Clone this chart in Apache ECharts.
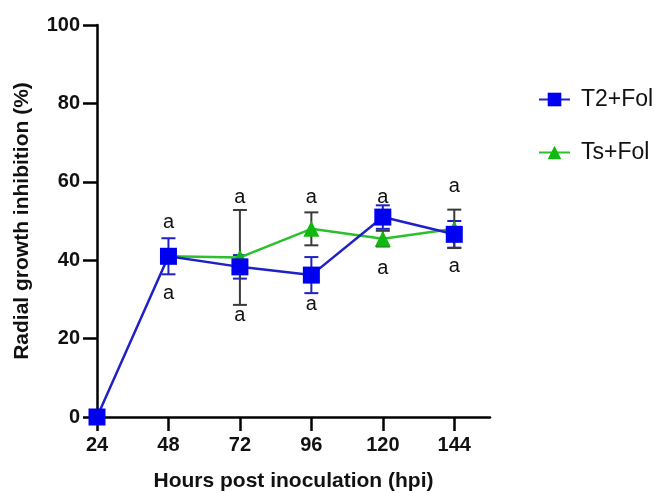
<!DOCTYPE html>
<html>
<head>
<meta charset="utf-8">
<script src="https://cdn.jsdelivr.net/npm/echarts@6/dist/echarts.min.js"></script>
<style>
  html, body { margin: 0; padding: 0; background: #fff; }
  #growth { width: 662px; height: 493px; }
</style>
</head>
<body>
<div id="growth"></div>
<script>
// chart setup
var growthChart = echarts.init(document.getElementById('growth'));

// hours post inoculation
const hours = [24, 48, 72, 96, 120, 144];

// T2+Fol mean and error (+/-)
const t2Mean = [0, 41, 38.3, 36.2, 51, 46.6];
const t2Err = [0, 4.6, 3, 4.6, 3, 3.4];

// Ts+Fol mean and error (no point at 24 h)
const tsMean = [null, 41, 40.7, 48, 45.5, 48];
const tsErr = [null, 0, 12.1, 4.2, 2, 4.9];

// letters above / below each time point
const letterHours = [48, 72, 96, 120, 144];
const letterUp = [49.5, 56, 56, 56, 58.7];
const letterDown = [31.6, 26, 28.8, 38, 38.5];

const blueLine = '#2020c8';
const blueMark = '#0000f0';
const greenLine = '#2cc02c';
const greenMark = '#10b810';
const fontName = '"Liberation Sans", Arial, sans-serif';

function pairs(xs, ys) {
  var out = [];
  for (var i = 0; i < xs.length; i++) {
    if (ys[i] !== null) out.push([xs[i], ys[i]]);
  }
  return out;
}

function errData(xs, m, e) {
  var out = [];
  for (var i = 0; i < xs.length; i++) {
    if (m[i] !== null && e[i] > 0) out.push([xs[i], m[i] - e[i], m[i] + e[i]]);
  }
  return out;
}

function errRender(params, api) {
  var x = api.value(0);
  var lo = api.coord([x, api.value(1)]);
  var hi = api.coord([x, api.value(2)]);
  var w = 7;
  var st = { stroke: api.visual('color'), lineWidth: 2 };
  return {
    type: 'group',
    children: [
      { type: 'line', shape: { x1: lo[0], y1: lo[1], x2: hi[0], y2: hi[1] }, style: st },
      { type: 'line', shape: { x1: lo[0] - w, y1: lo[1], x2: lo[0] + w, y2: lo[1] }, style: st },
      { type: 'line', shape: { x1: hi[0] - w, y1: hi[1], x2: hi[0] + w, y2: hi[1] }, style: st }
    ]
  };
}

function letterRender(params, api) {
  var p = api.coord([api.value(0), api.value(1)]);
  return {
    type: 'text',
    x: p[0],
    y: p[1],
    style: {
      text: 'a', fill: '#111', align: 'center', verticalAlign: 'middle',
      font: '20px ' + fontName
    }
  };
}

var option = {
  animation: false,
  grid: { left: 97, right: 172, top: 25, bottom: 76, outerBoundsMode: 'none' },
  legend: {
    orient: 'vertical',
    left: 533,
    top: 83,
    itemGap: 30,
    itemWidth: 31,
    itemHeight: 17,
    data: ['T2+Fol', 'Ts+Fol'],
    textStyle: { fontSize: 23, color: '#111', fontFamily: fontName, padding: [0, 0, 0, 6] }
  },
  xAxis: {
    type: 'value',
    min: 24,
    max: 156,
    interval: 24,
    name: 'Hours post inoculation (hpi)',
    nameLocation: 'middle',
    nameGap: 54,
    nameTextStyle: { fontSize: 21, fontWeight: 'bold', color: '#111', fontFamily: fontName },
    splitLine: { show: false },
    axisLine: { lineStyle: { color: '#000', width: 2.5 } },
    axisTick: { customValues: hours, length: 14, lineStyle: { color: '#000', width: 2.5 } },
    axisLabel: { customValues: hours, margin: 18, fontSize: 20, fontWeight: 'bold', color: '#111', fontFamily: fontName }
  },
  yAxis: {
    type: 'value',
    min: 0,
    max: 100,
    interval: 20,
    name: 'Radial growth inhibition (%)',
    nameLocation: 'middle',
    nameGap: 64,
    nameTextStyle: { fontSize: 21, fontWeight: 'bold', color: '#111', fontFamily: fontName },
    splitLine: { show: false },
    axisLine: { show: true, lineStyle: { color: '#000', width: 2.5 } },
    axisTick: { show: true, length: 14, lineStyle: { color: '#000', width: 2.5 } },
    axisLabel: { margin: 17, fontSize: 20, fontWeight: 'bold', color: '#111', fontFamily: fontName }
  },
  series: [
    {
      name: 'T2+Fol err',
      type: 'custom',
      renderItem: errRender,
      itemStyle: { color: blueLine },
      data: errData(hours, t2Mean, t2Err),
      z: 1,
      silent: true
    },
    {
      name: 'Ts+Fol err',
      type: 'custom',
      renderItem: errRender,
      itemStyle: { color: '#3a3a3a' },
      data: errData(hours, tsMean, tsErr),
      z: 1,
      silent: true
    },
    {
      name: 'Ts+Fol',
      type: 'line',
      data: pairs(hours, tsMean),
      symbol: 'triangle',
      symbolSize: 16,
      lineStyle: { color: greenLine, width: 2.5 },
      itemStyle: { color: greenMark },
      z: 3
    },
    {
      name: 'T2+Fol',
      type: 'line',
      data: pairs(hours, t2Mean),
      symbol: 'rect',
      symbolSize: 17,
      lineStyle: { color: blueLine, width: 2.5 },
      itemStyle: { color: blueMark },
      z: 4
    },
    {
      name: 'letters up',
      type: 'custom',
      renderItem: letterRender,
      data: pairs(letterHours, letterUp),
      z: 5,
      silent: true
    },
    {
      name: 'letters down',
      type: 'custom',
      renderItem: letterRender,
      data: pairs(letterHours, letterDown),
      z: 5,
      silent: true
    }
  ]
};

growthChart.setOption(option);
</script>
</body>
</html>
